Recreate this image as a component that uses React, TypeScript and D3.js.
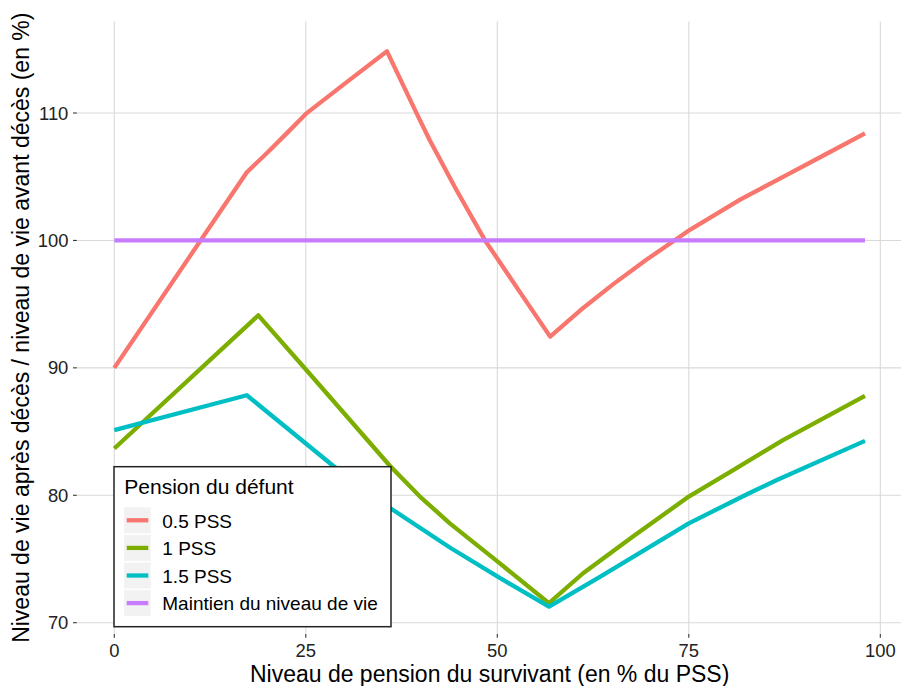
import React from "react";
import * as d3 from "d3";

// ---- data ----
const seriesNames = ["0.5 PSS", "1 PSS", "1.5 PSS", "Maintien du niveau de vie"];
const seriesColors = ["#F8766D", "#7CAE00", "#00BFC4", "#C77CFF"];

const x05 = [0, 17.3, 20, 22.5, 25, 30.3, 35.6, 39.5, 41.2, 44.7, 48.4, 50, 53, 56.9, 60.8, 65.1, 69.5, 75.2, 81.7, 87.8, 93, 98];
const y05 = [90, 105.35, 106.9, 108.4, 109.93, 112.4, 114.84, 109.93, 107.84, 103.92, 100, 98.58, 95.9, 92.45, 94.5, 96.55, 98.5, 100.85, 103.2, 105.15, 106.8, 108.4];

const x1 = [0, 18.8, 25.1, 36, 39.9, 43.8, 50.05, 56.75, 61.2, 67.8, 75, 80.8, 87.3, 98];
const y1 = [83.67, 94.12, 89.81, 82.3, 79.9, 77.8, 74.79, 71.53, 73.88, 76.8, 79.9, 81.97, 84.33, 87.8];

const x15 = [0, 17.3, 28.6, 36, 43.8, 50.05, 56.75, 63.4, 75, 83, 86.5, 98];
const y15 = [85.11, 87.85, 82.3, 79.0, 75.9, 73.61, 71.26, 73.6, 77.8, 80.2, 81.2, 84.27];

const xMaint = [0, 98];
const yMaint = [100, 100];

const xTicks = [0, 25, 50, 75, 100];
const yTicks = [70, 80, 90, 100, 110];

const xTitle = "Niveau de pension du survivant (en % du PSS)";
const yTitle = "Niveau de vie après décès / niveau de vie avant décès (en %)";
const legendTitle = "Pension du défunt";

const FONT = "'Liberation Sans', Arial, sans-serif";

export default function App() {
  const W = 901, H = 686;
  const x = d3.scaleLinear().domain([0, 100]).range([114.3, 880.3]);
  const y = d3.scaleLinear().domain([70, 110]).range([622.7, 113]);

  const px0 = x(-4.9), px1 = x(102.9);
  const py0 = y(117.185), py1 = y(69.115);

  const series = [
    { xs: x05, ys: y05 },
    { xs: x1, ys: y1 },
    { xs: x15, ys: y15 },
    { xs: xMaint, ys: yMaint },
  ];

  const line = d3
    .line<[number, number]>()
    .x((d) => x(d[0]))
    .y((d) => y(d[1]));

  const drawOrder = [0, 1, 2, 3];

  const legX = 114, legY = 466.7, legW = 277, legH = 160;
  const keyX = 124, keyW = 26.7, keyH = 26, keyY0 = 507.3, keyStep = 27.6;

  return (
    <svg
      width={W}
      height={H}
      style={{ position: "absolute", left: 0, top: 0, background: "#fff" }}
      fontFamily={FONT}
    >
      <defs>
        <clipPath id="panel">
          <rect x={px0} y={py0} width={px1 - px0} height={py1 - py0} />
        </clipPath>
      </defs>
      <rect x={0} y={0} width={W} height={H} fill="#fff" />
      {/* grid */}
      <g stroke="#D9D9D9" strokeWidth={1.1}>
        {yTicks.map((t) => (
          <line key={"gy" + t} x1={px0} x2={px1} y1={y(t)} y2={y(t)} />
        ))}
        {xTicks.map((t) => (
          <line key={"gx" + t} x1={x(t)} x2={x(t)} y1={py0} y2={py1} />
        ))}
      </g>
      {/* series */}
      <g clipPath="url(#panel)" fill="none" strokeWidth={4.3} strokeLinejoin="round" strokeLinecap="butt">
        {drawOrder.map((i) => {
          const s = series[i];
          const pts: [number, number][] = s.xs.map((v, k) => [v, s.ys[k]]);
          return <path key={"s" + i} d={line(pts) || ""} stroke={seriesColors[i]} />;
        })}
      </g>
      {/* axis ticks */}
      <g stroke="#333" strokeWidth={1.1}>
        {yTicks.map((t) => (
          <line key={"ty" + t} x1={px0 - 3.7} x2={px0} y1={y(t)} y2={y(t)} />
        ))}
        {xTicks.map((t) => (
          <line key={"tx" + t} x1={x(t)} x2={x(t)} y1={py1} y2={py1 + 3.7} />
        ))}
      </g>
      <g fill="#222" fontSize={18.4}>
        {yTicks.map((t) => (
          <text key={"ly" + t} x={px0 - 8.4} y={y(t)} dy="0.36em" textAnchor="end">
            {t}
          </text>
        ))}
        {xTicks.map((t) => (
          <text key={"lx" + t} x={x(t)} y={656.7} textAnchor="middle">
            {t}
          </text>
        ))}
      </g>
      {/* axis titles */}
      <text x={(px0 + px1) / 2} y={681.5} textAnchor="middle" fontSize={23} fill="#000">
        {xTitle}
      </text>
      <text
        transform={`translate(29.3, ${(py0 + py1) / 2}) rotate(-90)`}
        textAnchor="middle"
        fontSize={23}
        fill="#000"
      >
        {yTitle}
      </text>
      {/* legend */}
      <g>
        <rect x={legX} y={legY} width={legW} height={legH} fill="#fff" stroke="#222" strokeWidth={1.5} />
        <text x={124.3} y={494} fontSize={21} fill="#000">
          {legendTitle}
        </text>
        {seriesNames.map((name, i) => {
          const ky = keyY0 + i * keyStep;
          const cy = ky + keyH / 2;
          return (
            <g key={"leg" + i}>
              <rect x={keyX} y={ky} width={keyW} height={keyH} fill="#F2F2F2" />
              <line x1={126.7} x2={148.3} y1={cy} y2={cy} stroke={seriesColors[i]} strokeWidth={4.3} />
              <text x={162.3} y={cy + 7.2} fontSize={19} fill="#000">
                {name}
              </text>
            </g>
          );
        })}
      </g>
    </svg>
  );
}
